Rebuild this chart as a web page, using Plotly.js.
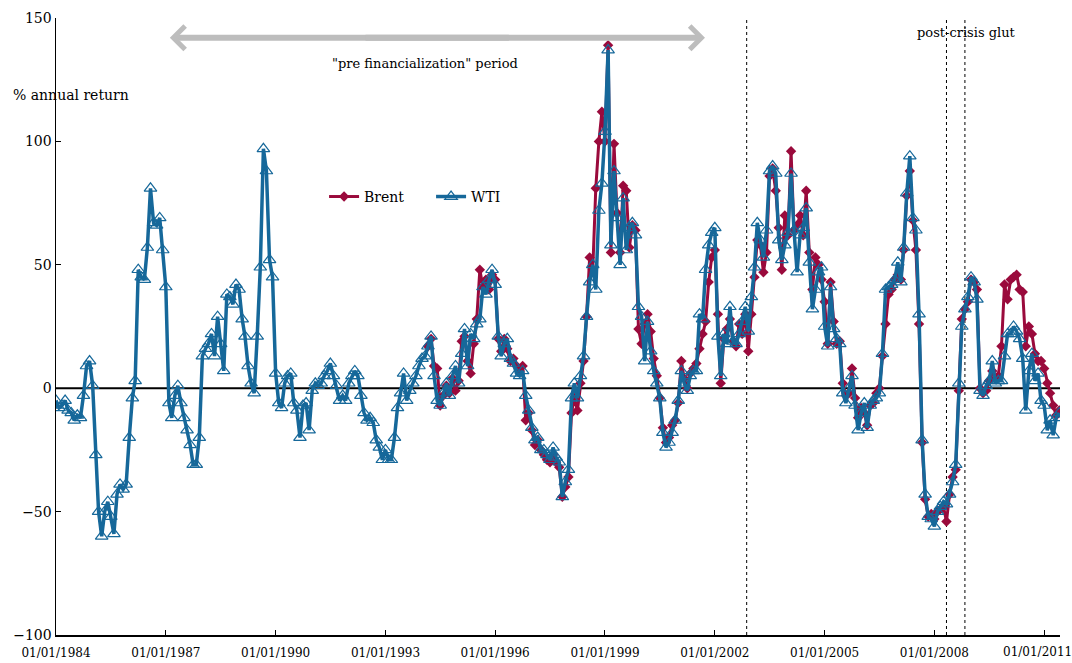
<!DOCTYPE html>
<html>
<head>
<meta charset="utf-8">
<script src="https://cdn.plot.ly/plotly-3.0.1.min.js"></script>
<style>html,body{margin:0;padding:0;background:#fff;}#chart{width:1072px;height:663px;}</style>
</head>
<body>
<div id="chart"></div>
<script>
// Monthly series, % annual return
const wtiStart = [1984, 1];
const wtiValues = [
 -5,-8,-7,-5,-9,-10,-13,-11,-12,-3,9,11,
 1,-27,-50,-60,-50,-46,-52,-59,-43,-39,-41,-39,
 -20,-4,3,48,45,44,57,81,67,66,69,56,
 41,-6,-12,-3,1,-6,-12,-17,-23,-31,-31,-20,
 13,16,18,22,13,29,18,7,38,37,34,42,
 40,28,21,9,2,-2,21,49,97,88,52,45,
 6,-6,-8,2,5,6,-6,-9,-20,-7,-6,-17,
 -1,2,1,2,5,7,10,5,1,-5,-3,-5,
 2,5,7,5,-3,-10,-13,-12,-14,-21,-24,-29,
 -25,-29,-29,-20,-8,-2,6,-5,-1,2,5,9,
 12,13,17,21,5,-5,-7,-2,2,-3,5,9,
 2,14,24,9,22,20,26,28,41,38,44,48,
 42,21,13,18,20,12,10,6,5,7,-3,-9,
 -16,-21,-20,-25,-25,-27,-29,-24,-28,-30,-44,-38,
 -33,-4,2,-4,5,13,29,43,50,40,72,83,
 104,137,58,88,69,50,77,56,65,67,62,33,
 29,11,27,15,7,2,-4,-18,-24,-22,-18,-13,
 -5,7,2,-1,5,7,7,30,28,48,58,63,
 65,21,5,22,18,33,19,18,22,27,33,23,
 37,49,67,60,53,64,88,90,87,60,52,58,
 63,87,64,47,62,65,73,51,32,40,47,49,
 25,17,41,24,20,18,-2,-6,0,5,-7,-17,
 -10,-6,-16,-7,-5,-4,-2,14,40,41,42,44,
 51,43,57,79,94,69,64,30,-21,-43,-52,-53,
 -56,-50,-48,-46,-47,-43,-38,-31,2,25,32,37,
 45,43,36,-1,-3,1,3,11,2,3,3,13,
 22,22,25,23,20,12,-9,7,14,3,6,-5,
 -7,-17,-13,-19,-12,-10
];
const brentStart = [1994, 3];
const brentValues = [
 17,20,9,8,-7,-3,1,-2,4,-1,
 3,19,21,11,6,18,28,48,41,44,40,46,
 44,20,15,20,16,11,12,9,7,9,-13,-10,
 -17,-23,-21,-25,-27,-29,-30,-27,-30,-32,-44,-40,
 -36,-10,-4,-9,2,11,29,53,48,81,100,112,
 100,139,55,99,71,55,82,80,57,66,64,24,
 18,26,30,23,12,5,-4,-16,-22,-20,-15,-13,
 -6,11,4,0,6,8,10,16,22,27,43,53,
 56,30,2,20,24,28,19,17,26,22,30,15,
 30,45,60,58,47,55,86,89,80,65,48,70,
 62,96,64,66,70,62,80,55,40,53,50,44,
 35,18,43,27,18,19,2,-3,-2,8,-4,-12,
 -8,-10,-15,-7,-6,-2,0,13,26,38,40,44,
 46,44,56,78,88,68,56,26,-22,-45,-52,-51,
 -53,-50,-49,-48,-54,-43,-36,-33,-1,28,32,35,
 44,43,40,0,-2,-1,3,7,4,5,17,42,
 36,44,45,46,40,39,17,25,22,14,11,11,
 8,2,-2,-7,-11,-9
];
const tickYears = [1984, 1987, 1990, 1993, 1996, 1999, 2002, 2005, 2008, 2011];
const tickLabels = ["01/01/1984","01/01/1987","01/01/1990","01/01/1993","01/01/1996","01/01/1999","01/01/2002","01/01/2005","01/01/2008","01/01/2011"];
const eventDates = ["2002-11-15", "2008-05-01", "2008-11-01"];

function monthDates(start, n) {
  const out = [];
  for (let k = 0; k < n; k++) {
    const m = start[1] - 1 + k;
    const y = start[0] + Math.floor(m / 12);
    const mm = (m % 12) + 1;
    out.push(y + "-" + String(mm).padStart(2, "0") + "-01");
  }
  return out;
}

const serif = "DejaVu Serif";
const brentColor = "#9A0A3C";
const wtiColor = "#16689A";

const traces = [
  {
    x: monthDates(brentStart, brentValues.length), y: brentValues,
    name: "Brent", type: "scatter", mode: "lines+markers",
    line: {color: brentColor, width: 3},
    marker: {symbol: "diamond", size: 8, color: brentColor}
  },
  {
    x: monthDates(wtiStart, wtiValues.length), y: wtiValues,
    name: "WTI", type: "scatter", mode: "lines+markers",
    line: {color: wtiColor, width: 3.5},
    marker: {symbol: "triangle-up-open", size: 11, color: wtiColor, line: {width: 1.2, color: wtiColor}}
  }
];

const shapes = [
  {type: "line", xref: "paper", yref: "y", x0: 0, x1: 1, y0: 0, y1: 0, line: {color: "#000", width: 2}, layer: "below"}
];
eventDates.forEach(d => shapes.push({
  type: "line", xref: "x", yref: "paper", x0: d, x1: d, y0: 0, y1: 1,
  line: {color: "#000", width: 1, dash: "dot"}, layer: "below"
}));

// last tick label is placed so it stays inside the picture, as in the reference
const lastIdx = tickYears.length - 1;
const axisTickText = tickLabels.map((t, k) => k === lastIdx ? "" : t);

const layout = {
  width: 1072, height: 663,
  margin: {l: 56, r: 12, t: 18, b: 28},
  paper_bgcolor: "#fff", plot_bgcolor: "#fff",
  font: {family: serif, size: 13, color: "#000"},
  showlegend: true,
  legend: {orientation: "h", x: 0.267, y: 0.71, xanchor: "left", yanchor: "middle",
           entrywidth: 62, entrywidthmode: "pixels",
           font: {family: serif, size: 14, color: "#000"}, bgcolor: "rgba(0,0,0,0)"},
  xaxis: {
    type: "date", range: ["1984-01-01", "2011-06-08"],
    tickvals: tickYears.map(y => y + "-01-01"), ticktext: axisTickText,
    ticks: "inside", ticklen: 5, tickcolor: "#000", ticklabelstandoff: 6,
    showline: true, linecolor: "#000", linewidth: 1.5, showgrid: false, zeroline: false,
    tickfont: {family: serif, size: 12, color: "#000"}
  },
  yaxis: {
    range: [-100, 150], tickvals: [-100, -50, 0, 50, 100, 150],
    ticks: "inside", ticklen: 5, tickcolor: "#000",
    showline: true, linecolor: "#000", linewidth: 1.5, showgrid: false, zeroline: false,
    tickfont: {family: serif, size: 14, color: "#000"}
  },
  shapes: shapes,
  annotations: [
    {x: "1987-02-10", y: 142, ax: "1996-06-01", ay: 142, xref: "x", yref: "y", axref: "x", ayref: "y",
     text: "", showarrow: true, arrowhead: 4, arrowsize: 0.75, arrowwidth: 6, arrowcolor: "#BDBDBD", standoff: 0},
    {x: "2001-09-25", y: 142, ax: "1992-06-01", ay: 142, xref: "x", yref: "y", axref: "x", ayref: "y",
     text: "", showarrow: true, arrowhead: 4, arrowsize: 0.75, arrowwidth: 6, arrowcolor: "#BDBDBD", standoff: 0},
    {x: 0.3675, y: 0.927, xref: "paper", yref: "paper", text: "\"pre financialization\" period",
     showarrow: false, font: {family: serif, size: 13, color: "#000"}, xanchor: "center", yanchor: "middle"},
    {x: -0.045, y: 0.875, xref: "paper", yref: "paper", text: "% annual return",
     showarrow: false, font: {family: serif, size: 14, color: "#000"}, xanchor: "left", yanchor: "middle"},
    {x: 0.907, y: 0.976, xref: "paper", yref: "paper", text: "post-crisis glut",
     showarrow: false, font: {family: serif, size: 13, color: "#000"}, xanchor: "center", yanchor: "middle"},
    {x: tickYears[lastIdx] + "-01-01", y: 0, xref: "x", yref: "paper", text: tickLabels[lastIdx],
     showarrow: false, font: {family: serif, size: 12, color: "#000"}, xanchor: "right", xshift: 30,
     yanchor: "top", yshift: -8}
  ]
};

Plotly.newPlot("chart", traces, layout, {displayModeBar: false, staticPlot: true});
</script>
</body>
</html>
